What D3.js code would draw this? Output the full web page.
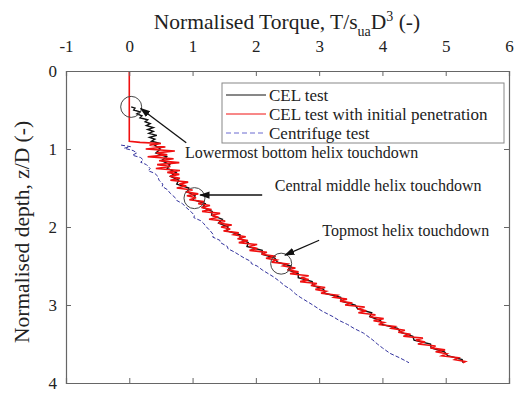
<!DOCTYPE html>
<html lang="en">
<head>
<meta charset="UTF-8">
<title>Normalised torque vs depth</title>
<script src="https://d3js.org/d3.v7.min.js"></script>
<style>
  body { margin: 0; background: #fff; }
  svg text { font-family: "Liberation Serif", Tinos, "Times New Roman", "DejaVu Serif", "Noto Serif", serif; fill: #222; }
</style>
</head>
<body>
<svg id="chart" width="518" height="394"></svg>
<script>
// tick values
const xTicks = [-1, 0, 1, 2, 3, 4, 5, 6];
const yTicks = [0, 1, 2, 3, 4];

// CEL test (black) : [depth z/D, torque]
const celTest = [[0.46,0.03],[0.475,0.09],[0.5,0.07],[0.525,0.17],[0.55,0.12],[0.575,0.20],[0.6,0.17],[0.625,0.29],[0.65,0.25],[0.675,0.33],[0.7,0.27],[0.725,0.38],[0.75,0.29],[0.775,0.38],[0.8,0.31],[0.825,0.435],[0.85,0.32],[0.875,0.405],[0.9,0.35],[0.925,0.47],[0.95,0.40],
  [1.00,0.49],[1.05,0.42],[1.10,0.59],[1.15,0.51],[1.20,0.64],[1.25,0.60],[1.30,0.74],[1.35,0.65],[1.40,0.78],[1.45,0.75],[1.50,0.94],[1.55,0.92],[1.60,1.04],[1.65,1.01],[1.70,1.20],[1.75,1.16],[1.80,1.31],[1.85,1.30],[1.90,1.47],[1.95,1.41],
  [2.00,1.56],[2.05,1.54],[2.10,1.75],[2.15,1.75],[2.20,1.88],[2.25,1.86],[2.30,2.10],[2.35,2.10],[2.40,2.30],[2.45,2.34],[2.50,2.55],[2.55,2.51],[2.60,2.67],[2.65,2.67],[2.70,2.89],[2.75,2.90],[2.80,3.07],[2.85,3.09],[2.90,3.34],[2.95,3.35],
  [3.00,3.57],[3.05,3.61],[3.10,3.83],[3.15,3.80],[3.20,3.97],[3.25,3.99],[3.30,4.24],[3.35,4.29],[3.40,4.48],[3.45,4.50],[3.50,4.76],[3.55,4.77],[3.60,4.98],[3.65,5.03],[3.70,5.26],[3.74,5.27]];

// CEL test with initial penetration (red)
const celInitPen = [[0,0.0],[0.90,0.0],[0.915,0.17],[0.93,0.50],
  [0.95,0.32],[0.975,0.57],[1.00,0.26],[1.025,0.72],[1.05,0.43],[1.075,0.60],[1.10,0.29],[1.125,0.70],[1.15,0.47],[1.175,0.79],[1.20,0.44],[1.225,0.65],[1.25,0.42],[1.275,0.80],[1.30,0.60],
  [1.325,0.79],[1.35,0.64],[1.375,0.80],[1.40,0.65],[1.425,0.93],[1.45,0.79],[1.475,0.90],[1.50,0.75],[1.525,1.00],[1.55,0.89],[1.575,1.09],[1.60,0.91],[1.625,1.055],[1.65,0.95],[1.675,1.18],[1.70,1.09],
  [1.725,1.275],[1.75,1.14],[1.775,1.30],[1.80,1.15],[1.825,1.435],[1.85,1.30],[1.875,1.41],[1.90,1.26],[1.925,1.515],[1.95,1.41],[1.975,1.62],[2.00,1.45],[2.025,1.595],[2.05,1.49],[2.075,1.73],[2.10,1.65],
  [2.125,1.84],[2.15,1.71],[2.175,1.875],[2.20,1.73],[2.225,2.02],[2.25,1.89],[2.275,2.025],[2.30,1.90],[2.325,2.175],[2.35,2.09],[2.375,2.315],[2.40,2.16],[2.425,2.33],[2.45,2.25],[2.475,2.50],[2.50,2.43],
  [2.525,2.625],[2.55,2.50],[2.575,2.675],[2.60,2.54],[2.625,2.835],[2.65,2.71],[2.675,2.835],[2.70,2.70],[2.725,2.965],[2.75,2.87],[2.775,3.095],[2.80,2.94],[2.825,3.11],[2.85,3.03],[2.875,3.29],[2.90,3.23],
  [2.925,3.44],[2.95,3.33],[2.975,3.525],[3.00,3.41],[3.025,3.72],[3.05,3.61],[3.075,3.745],[3.10,3.62],[3.125,3.89],[3.15,3.80],[3.175,4.02],[3.20,3.86],[3.225,4.025],[3.25,3.94],[3.275,4.20],[3.30,4.14],
  [3.325,4.355],[3.35,4.25],[3.375,4.445],[3.40,4.33],[3.425,4.64],[3.45,4.53],[3.475,4.675],[3.50,4.56],[3.525,4.84],[3.55,4.76],[3.575,4.99],[3.60,4.84],[3.625,5.015],[3.65,4.94],[3.675,5.20],[3.70,5.14],[3.725,5.31],[3.74,5.27]];

// Centrifuge test (blue dashed)
const centrifuge = [[0.95,-0.13],[0.97,0.02],[0.99,-0.08],[1.02,0.06],[1.05,0.12],[1.08,0.05],[1.11,0.18],[1.14,0.22],[1.17,0.18],[1.20,0.27],[1.25,0.33],[1.28,0.30],[1.31,0.40],[1.35,0.45],[1.40,0.47],[1.45,0.53],[1.48,0.52],[1.52,0.60],[1.57,0.65],[1.62,0.72],[1.66,0.75],[1.70,0.84],[1.75,0.90],[1.80,0.97],[1.85,1.03],[1.88,1.02],[1.92,1.13],[1.95,1.17],[2.00,1.22],[2.05,1.28],[2.10,1.33],[2.13,1.32],[2.17,1.43],[2.20,1.44],[2.25,1.55],[2.28,1.56],[2.32,1.66],[2.35,1.72],[2.40,1.82],[2.44,1.92],[2.47,1.93],[2.50,2.02],[2.55,2.10],[2.60,2.20],[2.64,2.28],[2.70,2.38],[2.75,2.45],[2.80,2.55],[2.86,2.63],[2.90,2.70],[2.96,2.82],[3.00,2.90],[3.08,3.05],[3.15,3.22],[3.20,3.32],[3.25,3.45],[3.30,3.55],[3.36,3.70],[3.45,3.85],[3.50,3.92],[3.55,4.00],[3.62,4.12],[3.68,4.28],[3.74,4.42]];

// touchdown markers [depth, torque]
const touchdowns = [[0.46,0.03],[1.63,1.03],[2.47,2.40]];
const touchLabels = ["Lowermost bottom helix touchdown", "Central middle helix touchdown", "Topmost helix touchdown"];

const legendNames = ["CEL test", "CEL test with initial penetration", "Centrifuge test"];

const svg = d3.select("#chart");
const m = {left: 66, right: 9, top: 71, bottom: 11};
const W = 518, H = 394;
const x = d3.scaleLinear().domain([-1, 6]).range([m.left, W - m.right]);
const y = d3.scaleLinear().domain([0, 4]).range([m.top, H - m.bottom]);

const axisColor = "#666";
const serif = "'Liberation Serif', Tinos, 'Times New Roman', 'DejaVu Serif', 'Noto Serif', serif";

// arrow head
svg.append("defs").append("marker")
  .attr("id", "arr").attr("viewBox", "0 0 10 10").attr("refX", 9).attr("refY", 5)
  .attr("markerWidth", 8).attr("markerHeight", 8).attr("orient", "auto")
  .append("path").attr("d", "M0,1.5 L10,5 L0,8.5 z").attr("fill", "#111");

// data lines
const line = d3.line().x(d => x(d[1])).y(d => y(d[0]));
svg.append("path").datum(celTest).attr("d", line)
  .attr("fill", "none").attr("stroke", "#111").attr("stroke-width", 1.4);
svg.append("path").datum(celInitPen).attr("d", line)
  .attr("fill", "none").attr("stroke", "#f01010").attr("stroke-width", 1.6);
svg.append("path").datum(centrifuge).attr("d", line)
  .attr("fill", "none").attr("stroke", "#33339e").attr("stroke-width", 1).attr("stroke-dasharray", "4,2");

// axes (box, ticks inward); plain hyphen for negatives like the original
const fmt = d => String(d);
const gTop = svg.append("g").attr("transform", `translate(0,${m.top})`)
  .call(d3.axisTop(x).tickValues(xTicks).tickSize(-5).tickPadding(19).tickFormat(fmt));
const gBot = svg.append("g").attr("transform", `translate(0,${H - m.bottom})`)
  .call(d3.axisBottom(x).tickValues(xTicks).tickSize(-5).tickFormat(""));
const gLeft = svg.append("g").attr("transform", `translate(${m.left},0)`)
  .call(d3.axisLeft(y).tickValues(yTicks).tickSize(-5).tickPadding(9).tickFormat(fmt));
const gRight = svg.append("g").attr("transform", `translate(${W - m.right},0)`)
  .call(d3.axisRight(y).tickValues(yTicks).tickSize(-5).tickFormat(""));
[gTop, gBot, gLeft, gRight].forEach(g => {
  g.attr("font-family", serif);
  g.selectAll("path.domain").attr("stroke", axisColor).attr("stroke-width", 1.2);
  g.selectAll(".tick line").attr("stroke", axisColor);
  g.selectAll(".tick text").style("font-family", serif).attr("font-size", 17).attr("fill", "#222");
});

// axis titles
const xt = svg.append("text").attr("x", 287).attr("y", 29).attr("text-anchor", "middle")
  .attr("font-family", serif).attr("font-size", 21.5);
xt.append("tspan").text("Normalised Torque, T/s");
xt.append("tspan").attr("font-size", 14).attr("dy", 7).text("ua");
xt.append("tspan").attr("dy", -7).text("D");
xt.append("tspan").attr("font-size", 14).attr("dy", -8).text("3");
xt.append("tspan").attr("dy", 8).text(" (-)");

svg.append("text").attr("transform", `translate(29,232) rotate(-90)`)
  .attr("text-anchor", "middle").attr("font-family", serif).attr("font-size", 21.5)
  .text("Normalised depth, z/D (-)");

// touchdown circles
svg.selectAll("circle.td").data(touchdowns).join("circle")
  .attr("class", "td").attr("cx", d => x(d[1])).attr("cy", d => y(d[0])).attr("r", 10.5)
  .attr("fill", "none").attr("stroke", "#444").attr("stroke-width", 1);

// annotations: text anchor and arrow ends, in (torque, depth)
const annText = [[0.88, 1.11], [2.3, 1.54], [3.05, 2.11]];
const annFrom = [[0.90, 0.92], [2.1, 1.59], [3.0, 2.17]];
const annTo = [[0.18, 0.48], [1.12, 1.59], [2.46, 2.36]];
touchLabels.forEach((t, i) => {
  svg.append("line")
    .attr("x1", x(annFrom[i][0])).attr("y1", y(annFrom[i][1]))
    .attr("x2", x(annTo[i][0])).attr("y2", y(annTo[i][1]))
    .attr("stroke", "#111").attr("stroke-width", 1.3).attr("marker-end", "url(#arr)");
  svg.append("text").attr("x", x(annText[i][0])).attr("y", y(annText[i][1]))
    .attr("font-family", serif).attr("font-size", 16).text(t);
});

// legend
const lg = svg.append("g").attr("transform", "translate(222,83)");
lg.append("rect").attr("width", 282).attr("height", 60).attr("fill", "#fff").attr("stroke", "#888");
const lgStyles = [
  {stroke: "#111", dash: null},
  {stroke: "#f01010", dash: null},
  {stroke: "#6a6ad0", dash: "5,3"}
];
legendNames.forEach((n, i) => {
  const yy = 12 + i * 19;
  lg.append("line").attr("x1", 4).attr("x2", 44).attr("y1", yy).attr("y2", yy)
    .attr("stroke", lgStyles[i].stroke).attr("stroke-width", 1).attr("stroke-dasharray", lgStyles[i].dash);
  lg.append("text").attr("x", 47).attr("y", yy + 6).attr("font-family", serif).attr("font-size", 17).text(n);
});
</script>
</body>
</html>
